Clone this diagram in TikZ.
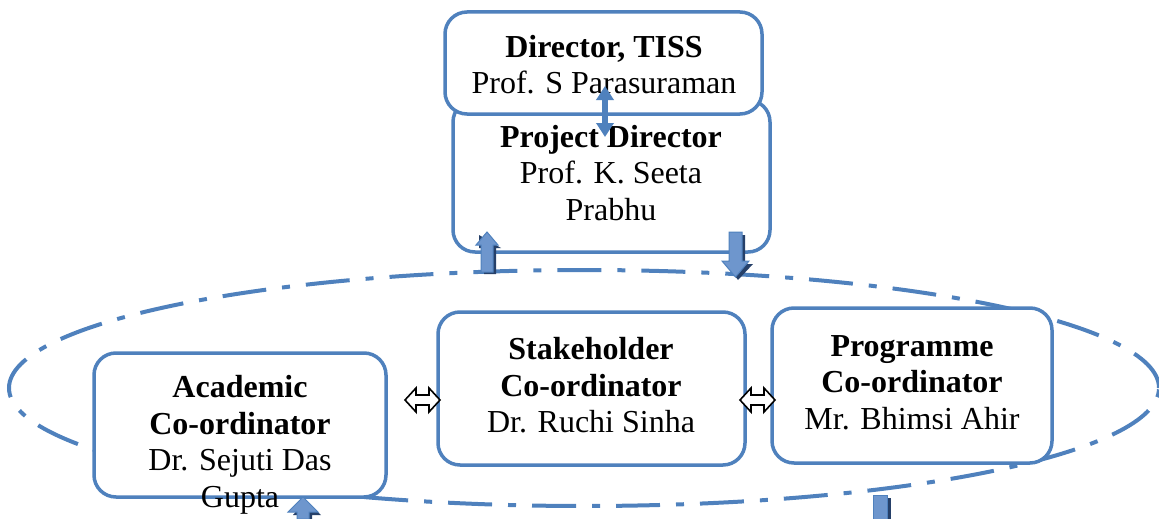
\documentclass[tikz,border=0pt]{standalone}
\usepackage{fontspec}
\setmainfont{Liberation Serif}
\usetikzlibrary{arrows.meta}
\definecolor{bl}{RGB}{79,129,189}
\definecolor{bldark}{RGB}{38,64,105}
\definecolor{bllight}{RGB}{110,150,205}
\begin{document}
\begin{tikzpicture}[x=1pt,y=-1pt,
  box/.style={draw=bl, line width=3.5pt, rounded corners=22pt, fill=white, inner sep=0pt},
  txt/.style={font=\fontsize{32}{36.5}\selectfont, align=center, inner sep=0pt},
  ell/.style={draw=bl, line width=4pt, dash pattern=on 44pt off 16pt on 8pt off 16pt},
  blk/.style={fill=bllight, draw=bl, line width=1pt},
  shd/.style={fill=bldark},
  hollow/.style={fill=white, draw=black, line width=1.6pt, line join=miter}]
\useasboundingbox (0,0) rectangle (1159,519);

% dash-dot ellipse
\draw[ell] (584,388) ellipse [x radius=575pt, y radius=118pt];

% boxes
\node[box, minimum width=317pt, minimum height=152pt] (pd) at (611.5,176) {};
\node[box, minimum width=317pt, minimum height=102pt] (dir) at (603.5,63) {};
\node[box, minimum width=292pt, minimum height=144pt] (acad) at (240,425) {};
\node[box, minimum width=307pt, minimum height=153pt] (stake) at (591.5,388.5) {};
\node[box, minimum width=280pt, minimum height=155pt] (prog) at (912,385.5) {};

% texts
\node[txt] (tdir) at (604,64.5) {\textbf{Director, TISS}\\Prof. S Parasuraman};
\node[txt] (tpd) at (611,173) {\textbf{Project Director}\\Prof. K. Seeta\\Prabhu};
\node[txt] (tacad) at (240,445) {\textbf{Academic}\\\textbf{Co-ordinator}\\Dr. Sejuti Das\\Gupta};
\node[txt] (tstake) at (591,385.5) {\textbf{Stakeholder}\\\textbf{Co-ordinator}\\Dr. Ruchi Sinha};
\node[txt] (tprog) at (912,382.5) {\textbf{Programme}\\\textbf{Co-ordinator}\\Mr. Bhimsi Ahir};

% double arrow director <-> project director
\coordinate (da1) at (605,86);
\coordinate (da2) at (605,137);
\draw[bl, line width=5.5pt, {Triangle[length=14pt,width=17pt]}-{Triangle[length=14pt,width=17pt]}] (da1) -- (da2);

% block arrow up (left, under PD)
\fill[shd] (479,235) -- (501,248) -- (496,248) -- (496,274) -- (484,274) -- (484,248) -- (479,248) -- cycle;
\path[blk] (487,232) -- (498,245) -- (493,245) -- (493,272) -- (481,272) -- (481,245) -- (476,245) -- cycle;
% block arrow down (right, under PD)
\fill[shd] (732,235) -- (745,235) -- (745,264) -- (753,264) -- (738,280) -- (726,264) -- (732,264) -- cycle;
\path[blk] (729,232) -- (742,232) -- (742,261) -- (749,261) -- (735.5,277) -- (722,261) -- (729,261) -- cycle;

% block arrow up (bottom left)
\fill[shd] (306,500) -- (321,515) -- (312,515) -- (312,519) -- (300,519) -- (300,515) -- (293,515) -- cycle;
\path[blk] (303,497) -- (318,512) -- (309,512) -- (309,519) -- (297,519) -- (297,512) -- (288,512) -- cycle;
% block arrow (bottom right)
\fill[shd] (877,498) -- (891,498) -- (891,519) -- (877,519) -- cycle;
\path[blk] (873,495) -- (887,495) -- (887,519) -- (873,519) -- cycle;

% hollow double arrows between coordinators
\path[hollow] (405,400) -- (416,388) -- (416,395) -- (429,395) -- (429,388) -- (440,400) -- (429,412) -- (429,405) -- (416,405) -- (416,412) -- cycle;
\path[hollow] (740,400) -- (751,388) -- (751,395) -- (764,395) -- (764,388) -- (775,400) -- (764,412) -- (764,405) -- (751,405) -- (751,412) -- cycle;
\end{tikzpicture}
\end{document}
